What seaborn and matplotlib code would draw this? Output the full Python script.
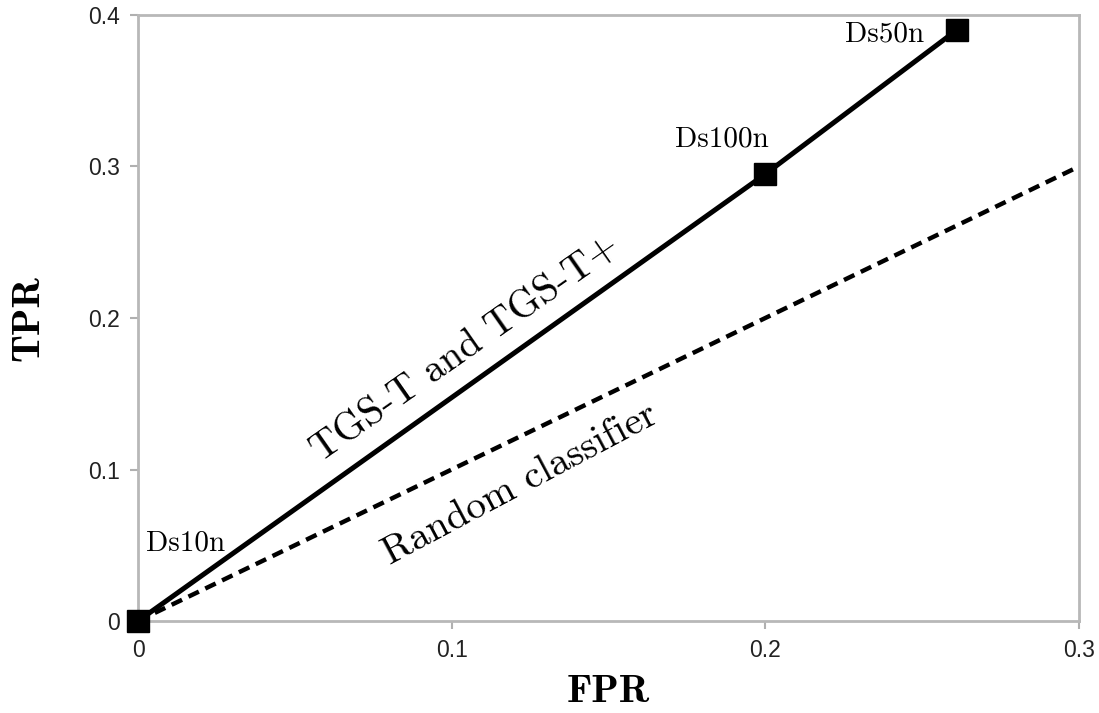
import matplotlib
matplotlib.use("Agg")
import matplotlib.pyplot as plt
import seaborn as sns
import pandas as pd

# Data
fpr_tgs = [0.0, 0.2, 0.261]
tpr_tgs = [0.0, 0.295, 0.390]
point_labels = ["Ds10n", "Ds100n", "Ds50n"]
fpr_random = [0.0, 0.3]
tpr_random = [0.0, 0.3]
xticks = [0.0, 0.1, 0.2, 0.3]
xtick_labels = ["0", "0.1", "0.2", "0.3"]
yticks = [0.0, 0.1, 0.2, 0.3, 0.4]
ytick_labels = ["0", "0.1", "0.2", "0.3", "0.4"]

sns.set_style("white")
plt.rcParams["axes.unicode_minus"] = False

fig = plt.figure(figsize=(10.99, 7.13), dpi=100)
ax = fig.add_axes([0.1256, 0.129, 0.8562, 0.850])

df_tgs = pd.DataFrame({"FPR": fpr_tgs, "TPR": tpr_tgs})
df_rand = pd.DataFrame({"FPR": fpr_random, "TPR": tpr_random})

sns.lineplot(data=df_rand, x="FPR", y="TPR", ax=ax, color="black",
             linewidth=3.2, linestyle=(0, (2.6, 1.6)), clip_on=False)
sns.lineplot(data=df_tgs, x="FPR", y="TPR", ax=ax, color="black",
             linewidth=3.6, clip_on=False)
ax.plot(df_tgs["FPR"], df_tgs["TPR"], linestyle="none", marker="s",
        markersize=16, color="black", clip_on=False, zorder=5)

ax.set_xlim(0, 0.3)
ax.set_ylim(0, 0.4)
ax.set_xticks(xticks)
ax.set_xticklabels(xtick_labels)
ax.set_yticks(yticks)
ax.set_yticklabels(ytick_labels)
ax.tick_params(axis="both", which="major", bottom=True, left=True,
               direction="out", length=6, width=1.5, color="#b0b0b0", pad=7,
               labelsize=16.5, labelcolor="#222222")
for lab in ax.get_xticklabels() + ax.get_yticklabels():
    lab.set_fontfamily("Liberation Sans")

for s in ax.spines.values():
    s.set_color("#b8b8b8")
    s.set_linewidth(2)

ax.set_xlabel("FPR", fontfamily="cmb10", fontsize=29, labelpad=9, color="black")
ax.set_ylabel("TPR", fontfamily="cmb10", fontsize=29, labelpad=30, color="black")

label_pos = [(0.015, 0.0515), (0.1862, 0.318), (0.238, 0.3875)]
for lab, (lx, ly) in zip(point_labels, label_pos):
    ax.text(lx, ly, lab, fontfamily="cmr10", fontsize=21, ha="center", va="center",
            color="black")

ax.text(0.1043, 0.180, "TGS-T and TGS-T+", fontfamily="cmr10", fontsize=28.5,
        rotation=35, ha="center", va="center", rotation_mode="anchor", color="black")
ax.text(0.1218, 0.0898, "Random classifier", fontfamily="cmr10", fontsize=28.5,
        rotation=28, ha="center", va="center", rotation_mode="anchor", color="black")

fig.savefig("out.png", dpi=100, facecolor="white")
